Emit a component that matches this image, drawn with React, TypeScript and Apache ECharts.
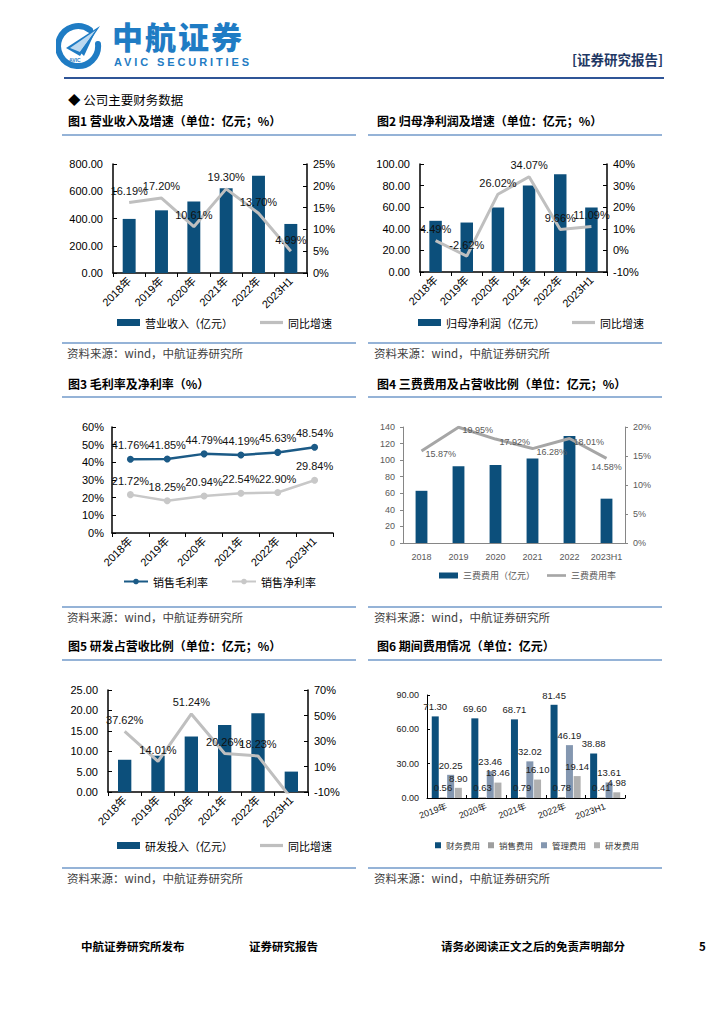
import React, { useEffect, useRef } from "react";
import * as echarts from "echarts";

// ---------- data ----------
const years = ["2018年", "2019年", "2020年", "2021年", "2022年", "2023H1"];
const revenue = [397, 460, 524, 622, 713, 360];
const revenueGrowth = [16.19, 17.2, 10.61, 19.3, 13.7, 4.99];
const netProfit = [47.4, 45.8, 59.8, 80.2, 90.4, 59.8];
const netProfitGrowth = [4.49, -2.62, 26.02, 34.07, 9.66, 11.09];
const grossMargin = [41.76, 41.85, 44.79, 44.19, 45.63, 48.54];
const netMargin = [21.72, 18.25, 20.94, 22.54, 22.9, 29.84];
const years4 = ["2018", "2019", "2020", "2021", "2022", "2023H1"];
const threeExp = [63, 92.5, 94, 102, 129, 53.5];
const threeExpRate = [15.87, 19.95, 17.92, 16.28, 18.01, 14.58];
const rdInvest = [7.9, 8.9, 13.6, 16.4, 19.3, 5.0];
const rdGrowth = [37.62, 14.01, 51.24, 20.26, 18.23, -15];
const years6 = ["2019年", "2020年", "2021年", "2022年", "2023H1"];
const finExp = [71.3, 69.6, 68.71, 81.45, 38.88];
const salesExp = [0.56, 0.63, 0.79, 0.78, 0.41];
const mgmtExp = [20.25, 23.46, 32.02, 46.19, 13.61];
const rdExp = [8.9, 13.46, 16.1, 19.14, 4.98];

// ---------- styles ----------
const BAR = "#0c4f7b";
const GRAY_LINE = "#bfbfbf";
const FONT = "'Liberation Sans', Arial, 'Noto Sans CJK SC', sans-serif";
const CJK = "'Noto Sans CJK SC', sans-serif";
const LINE_ICON = "path://M0,0 L100,0 L100,14 L0,14 Z";

const pct2 = (p: any) => Number(p.value).toFixed(2) + "%";
const fix2 = (v: number) => v.toFixed(2);
const pctAxis = (v: number) => v + "%";

function blackAxisY(min: number, max: number, interval: number, formatter: any, margin: number) {
  return {
    type: "value",
    min,
    max,
    interval,
    splitLine: { show: false },
    axisLine: { show: true, lineStyle: { color: "#000", width: 1.5 } },
    axisTick: { show: true, inside: true, length: 4, lineStyle: { color: "#000" } },
    axisLabel: { formatter, fontSize: 11, color: "#000", margin, fontFamily: FONT },
  };
}

function blackAxisX(data: string[], rotate: number) {
  return {
    type: "category",
    data,
    axisLine: { lineStyle: { color: "#000", width: 1.5 } },
    axisTick: { show: true, length: 4, lineStyle: { color: "#000" } },
    axisLabel: { rotate, interval: 0, fontSize: 11, color: "#000", margin: 6, fontFamily: FONT },
  };
}

function barLineOption(
  barName: string,
  barData: number[],
  lineName: string,
  lineData: number[],
  left: [number, number, number],
  right: [number, number, number],
  grid: any,
  legendLeft: number,
  legendTop: number
) {
  return {
    animation: false,
    textStyle: { fontFamily: FONT },
    grid,
    legend: {
      left: legendLeft,
      top: legendTop,
      itemWidth: 23,
      itemHeight: 7,
      itemGap: 27,
      textStyle: { fontSize: 11, color: "#000", fontFamily: CJK },
      data: [{ name: barName, icon: "rect" }, { name: lineName, icon: LINE_ICON, itemStyle: { color: GRAY_LINE } }],
    },
    xAxis: blackAxisX(years, 45),
    yAxis: [
      blackAxisY(left[0], left[1], left[2], fix2, 10),
      blackAxisY(right[0], right[1], right[2], pctAxis, 6),
    ],
    series: [
      { type: "bar", name: barName, data: barData, barWidth: "40%", itemStyle: { color: BAR } },
      {
        type: "line",
        name: lineName,
        yAxisIndex: 1,
        data: lineData,
        symbol: "circle",
        symbolSize: 0.1,
        showSymbol: true,
        lineStyle: { color: GRAY_LINE, width: 3 },
        itemStyle: { color: GRAY_LINE },
        label: {
          show: true,
          position: "top",
          distance: 6,
          formatter: (p: any) => (p.value < right[0] ? "" : pct2(p)),
          fontSize: 11,
          color: "#111",
          fontFamily: FONT,
        },
      },
    ],
  };
}

const option1 = barLineOption(
  "营业收入（亿元）",
  revenue,
  "同比增速",
  revenueGrowth,
  [0, 800, 200],
  [0, 25, 5],
  { left: 53, top: 24, right: 53, bottom: 62 },
  52,
  172
);

const option2 = barLineOption(
  "归母净利润（亿元）",
  netProfit,
  "同比增速",
  netProfitGrowth,
  [0, 100, 20],
  [-10, 40, 10],
  { left: 60, top: 24, right: 53, bottom: 63 },
  53,
  172
);

const option5 = barLineOption(
  "研发投入（亿元）",
  rdInvest,
  "同比增速",
  rdGrowth,
  [0, 25, 5],
  [-10, 70, 20],
  { left: 48, top: 25, right: 52, bottom: 68 },
  52,
  170
);

const option3 = {
  animation: false,
  textStyle: { fontFamily: FONT },
  grid: { left: 52, top: 27, right: 27, bottom: 62 },
  legend: {
    left: 58,
    top: 171,
    itemWidth: 24,
    itemHeight: 7,
    itemGap: 23,
    textStyle: { fontSize: 11, color: "#000", fontFamily: CJK },
    data: ["销售毛利率", "销售净利率"],
  },
  xAxis: blackAxisX(years, 45),
  yAxis: blackAxisY(0, 60, 10, pctAxis, 8),
  series: [
    {
      type: "line",
      name: "销售毛利率",
      data: grossMargin,
      symbol: "circle",
      symbolSize: 7,
      lineStyle: { color: "#1b5a86", width: 2.5 },
      itemStyle: { color: "#1b5a86" },
      label: { show: true, position: "top", formatter: pct2, fontSize: 11, color: "#111", fontFamily: FONT },
    },
    {
      type: "line",
      name: "销售净利率",
      data: netMargin,
      symbol: "circle",
      symbolSize: 7,
      lineStyle: { color: "#c8c8c8", width: 2.5 },
      itemStyle: { color: "#c8c8c8" },
      label: { show: true, position: "top", formatter: pct2, fontSize: 11, color: "#111", fontFamily: FONT },
    },
  ],
};

const grayAxisY = (min: number, max: number, interval: number, formatter: any) => ({
  type: "value",
  min,
  max,
  interval,
  splitLine: { show: false },
  axisLine: { show: true, lineStyle: { color: "#868686", width: 1 } },
  axisTick: { show: true, length: 3, lineStyle: { color: "#868686" } },
  axisLabel: { formatter, fontSize: 9, color: "#595959", margin: 8, fontFamily: FONT },
});

// the last label of chart 4 sits below its point, as in the reference
const threeExpRateData = threeExpRate.map((v, i) =>
  i === threeExpRate.length - 1 ? { value: v, label: { position: "bottom", distance: 4, offset: [0, 0] } } : v
);

const option4 = {
  animation: false,
  textStyle: { fontFamily: FONT },
  grid: { left: 43, top: 27, right: 35, bottom: 52 },
  legend: {
    left: 74,
    top: 166,
    itemWidth: 19,
    itemHeight: 6,
    itemGap: 12,
    textStyle: { fontSize: 9, color: "#595959", fontFamily: CJK },
    data: [{ name: "三费费用（亿元）", icon: "rect" }, { name: "三费费用率", icon: LINE_ICON, itemStyle: { color: "#a6a6a6" } }],
  },
  xAxis: {
    type: "category",
    data: years4,
    axisLine: { lineStyle: { color: "#868686" } },
    axisTick: { show: false },
    axisLabel: { interval: 0, fontSize: 9, color: "#595959", margin: 9, fontFamily: FONT },
  },
  yAxis: [grayAxisY(0, 140, 20, (v: number) => String(v)), grayAxisY(0, 20, 5, pctAxis)],
  series: [
    { type: "bar", name: "三费费用（亿元）", data: threeExp, barWidth: "32%", itemStyle: { color: BAR } },
    {
      type: "line",
      name: "三费费用率",
      yAxisIndex: 1,
      data: threeExpRateData,
      symbol: "circle",
      symbolSize: 0.1,
      showSymbol: true,
      lineStyle: { color: "#a6a6a6", width: 3 },
      itemStyle: { color: "#a6a6a6" },
      label: { show: true, position: "right", distance: 4, offset: [0, 3], formatter: pct2, fontSize: 9, color: "#595959", fontFamily: FONT },
    },
  ],
};

const barLabel = { show: true, position: "top", fontSize: 9.5, color: "#222", fontFamily: FONT, formatter: (p: any) => Number(p.value).toFixed(2) };

const option6 = {
  animation: false,
  textStyle: { fontFamily: FONT },
  grid: { left: 67, top: 30, right: 35, bottom: 62 },
  legend: {
    left: 70,
    top: 171,
    width: 228,
    itemWidth: 6,
    itemHeight: 6,
    itemGap: 8,
    icon: "rect",
    textStyle: { fontSize: 8.5, color: "#333", fontFamily: CJK },
  },
  xAxis: {
    type: "category",
    data: years6,
    axisLine: { lineStyle: { color: "#000" } },
    axisTick: { show: true, inside: true, length: 3, lineStyle: { color: "#000" } },
    axisLabel: { rotate: 20, interval: 0, fontSize: 9, color: "#222", margin: 8, fontFamily: FONT },
  },
  yAxis: {
    type: "value",
    min: 0,
    max: 90,
    interval: 30,
    splitLine: { show: false },
    axisLine: { show: true, lineStyle: { color: "#000" } },
    axisTick: { show: true, inside: true, length: 3, lineStyle: { color: "#000" } },
    axisLabel: { formatter: fix2, fontSize: 9, color: "#222", margin: 8, fontFamily: FONT },
  },
  series: [
    { type: "bar", name: "财务费用", data: finExp, barWidth: 7, barGap: "10%", itemStyle: { color: BAR }, label: barLabel },
    { type: "bar", name: "销售费用", data: salesExp, barWidth: 7, barGap: "10%", itemStyle: { color: "#9e9e9e" }, label: barLabel },
    { type: "bar", name: "管理费用", data: mgmtExp, barWidth: 7, barGap: "10%", itemStyle: { color: "#8497b0" }, label: barLabel },
    { type: "bar", name: "研发费用", data: rdExp, barWidth: 7, barGap: "10%", itemStyle: { color: "#b0b0b0" }, label: barLabel },
  ],
};

function Chart({ option, left, top, width, height }: any) {
  const ref = useRef<HTMLDivElement>(null);
  useEffect(() => {
    if (!ref.current) return;
    const chart = echarts.init(ref.current, undefined, { renderer: "svg" });
    chart.setOption(option);
    return () => chart.dispose();
  }, [option]);
  return <div ref={ref} style={{ position: "absolute", left, top, width, height }} />;
}

const abs = (left: number, top: number, extra: any = {}) => ({ position: "absolute" as const, left, top, ...extra });

function HLine({ x1, x2, y, color = "#95b3d7", h = 1.5 }: any) {
  return <div style={abs(x1, y, { width: x2 - x1, height: h, background: color })} />;
}

const titleStyle = { fontFamily: CJK, fontSize: 12, fontWeight: 700, color: "#000", whiteSpace: "nowrap" as const, lineHeight: "14px" };
const srcStyle = { fontFamily: CJK, fontSize: 11.5, color: "#404040", whiteSpace: "nowrap" as const, lineHeight: "14px" };

export default function App() {
  return (
    <div style={{ position: "absolute", left: 0, top: 0, width: 724, height: 1024, background: "#fff", overflow: "hidden" }}>
      {/* logo */}
      <svg style={abs(56, 22)} width={48} height={48} viewBox="0 0 48 48">
        <path d="M34 8 A20 20 0 1 0 42 22" fill="none" stroke="#1f7cc4" strokeWidth={6} strokeLinecap="round" />
        <polygon points="10,26 44,4 24,34" fill="#1f7cc4" />
        <polygon points="14,26 40,8 24,30" fill="#bcd9f0" />
        <polygon points="24,30 40,8 28,34" fill="#1f7cc4" />
        <text x={13} y={40} fontSize={5} fill="#1f7cc4" fontFamily={FONT} fontWeight={700}>AVIC</text>
      </svg>
      <div style={abs(112, 19, { fontFamily: CJK, fontSize: 31, fontWeight: 900, color: "#1f7cc4", letterSpacing: 2, lineHeight: "34px", whiteSpace: "nowrap" })}>中航证券</div>
      <div style={abs(114, 56, { fontFamily: FONT, fontSize: 11, fontWeight: 700, color: "#1f7cc4", letterSpacing: 2.9, lineHeight: "13px", whiteSpace: "nowrap" })}>AVIC SECURITIES</div>
      <div style={abs(572, 51, { fontFamily: CJK, fontSize: 13.5, fontWeight: 700, color: "#1f3864", lineHeight: "16px", whiteSpace: "nowrap" })}>[证券研究报告]</div>
      <HLine x1={64} x2={664} y={77} color="#2f5597" h={2} />

      <div style={abs(68, 92, { fontFamily: CJK, fontSize: 12.5, color: "#000", lineHeight: "15px", whiteSpace: "nowrap" })}>◆ 公司主要财务数据</div>

      {/* row 1 */}
      <div style={abs(68, 114, titleStyle)}>图1 营业收入及增速（单位：亿元；%）</div>
      <div style={abs(377, 114, titleStyle)}>图2 归母净利润及增速（单位：亿元；%）</div>
      <HLine x1={62} x2={356} y={134} />
      <HLine x1={368} x2={662} y={134} />
      <Chart option={option1} left={60} top={140} width={300} height={195} />
      <Chart option={option2} left={360} top={140} width={300} height={195} />
      <HLine x1={62} x2={356} y={342} />
      <HLine x1={368} x2={662} y={342} />
      <div style={abs(67, 346, srcStyle)}>资料来源：wind，中航证券研究所</div>
      <div style={abs(374, 346, srcStyle)}>资料来源：wind，中航证券研究所</div>

      {/* row 2 */}
      <div style={abs(68, 377, titleStyle)}>图3 毛利率及净利率（%）</div>
      <div style={abs(377, 377, titleStyle)}>图4 三费费用及占营收比例（单位：亿元；%）</div>
      <HLine x1={62} x2={356} y={396} />
      <HLine x1={368} x2={662} y={396} />
      <Chart option={option3} left={60} top={400} width={300} height={195} />
      <Chart option={option4} left={360} top={400} width={300} height={195} />
      <HLine x1={62} x2={356} y={606} />
      <HLine x1={368} x2={662} y={606} />
      <div style={abs(67, 610, srcStyle)}>资料来源：wind，中航证券研究所</div>
      <div style={abs(374, 610, srcStyle)}>资料来源：wind，中航证券研究所</div>

      {/* row 3 */}
      <div style={abs(68, 639, titleStyle)}>图5 研发占营收比例（单位：亿元；%）</div>
      <div style={abs(377, 639, titleStyle)}>图6 期间费用情况（单位：亿元）</div>
      <HLine x1={62} x2={356} y={659} />
      <HLine x1={368} x2={662} y={659} />
      <Chart option={option5} left={60} top={665} width={300} height={195} />
      <Chart option={option6} left={360} top={665} width={300} height={195} />
      <HLine x1={62} x2={356} y={867} />
      <HLine x1={368} x2={662} y={867} />
      <div style={abs(67, 871, srcStyle)}>资料来源：wind，中航证券研究所</div>
      <div style={abs(374, 871, srcStyle)}>资料来源：wind，中航证券研究所</div>

      {/* footer */}
      <div style={abs(81, 939, { ...titleStyle, fontSize: 11.5 })}>中航证券研究所发布</div>
      <div style={abs(249, 939, { ...titleStyle, fontSize: 11.5 })}>证券研究报告</div>
      <div style={abs(441, 939, { ...titleStyle, fontSize: 11.5 })}>请务必阅读正文之后的免责声明部分</div>
      <div style={abs(699, 939, { ...titleStyle, fontSize: 11.5 })}>5</div>
    </div>
  );
}
